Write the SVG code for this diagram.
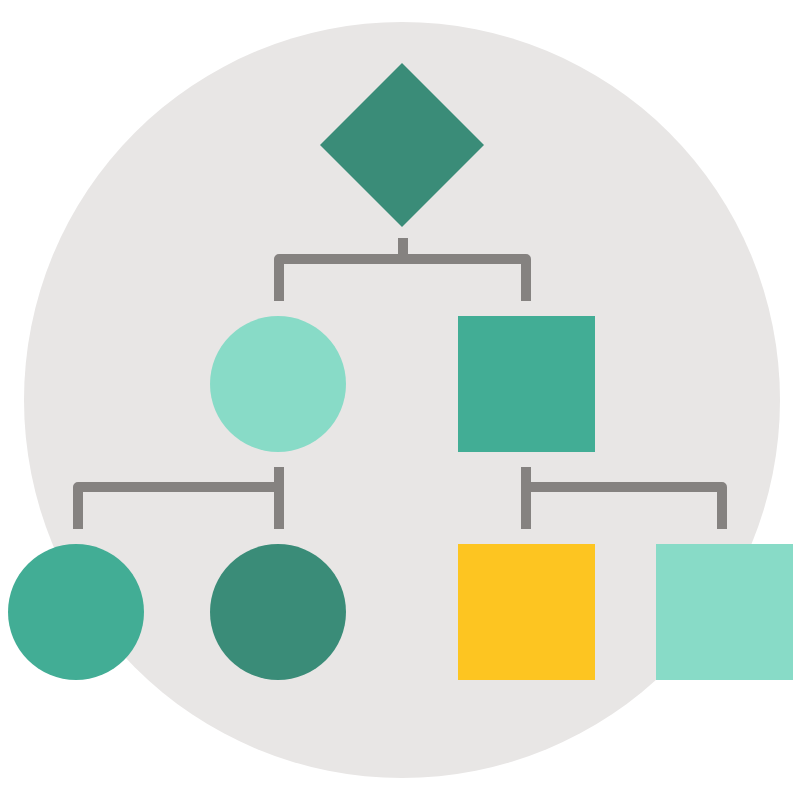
<svg xmlns="http://www.w3.org/2000/svg" width="800" height="800" viewBox="0 0 800 800">
<style>
.conn{fill:none;stroke:#858280;stroke-width:10;stroke-linejoin:round;stroke-linecap:butt}
.dark{fill:#3a8c78}
.mid{fill:#42ad95}
.light{fill:#88dbc7}
.yellow{fill:#fdc521}
</style>
<rect width="800" height="800" fill="#ffffff"/>
<circle cx="402" cy="400" r="378" fill="#e8e6e5"/>
<g id="connectors">
<path class="conn" d="M403 238 V259"/>
<path class="conn" d="M279 301 V259 H526 V301"/>
<path class="conn" d="M78 529 V487 H279"/>
<path class="conn" d="M279 467 V529"/>
<path class="conn" d="M526 467 V529"/>
<path class="conn" d="M526 487 H722 V529"/>
</g>
<g id="diamond"><polygon class="dark" points="402,63 484,145 402,227 320,145"/></g>
<g id="circle-top"><circle class="light" cx="278" cy="384" r="68"/></g>
<g id="square-top"><rect class="mid" x="458" y="316" width="137" height="136"/></g>
<g id="circle-left"><circle class="mid" cx="76" cy="612" r="68"/></g>
<g id="circle-mid"><circle class="dark" cx="278" cy="612" r="68"/></g>
<g id="square-yellow"><rect class="yellow" x="458" y="544" width="137" height="136"/></g>
<g id="square-right"><rect class="light" x="656" y="544" width="137" height="136"/></g>
</svg>
